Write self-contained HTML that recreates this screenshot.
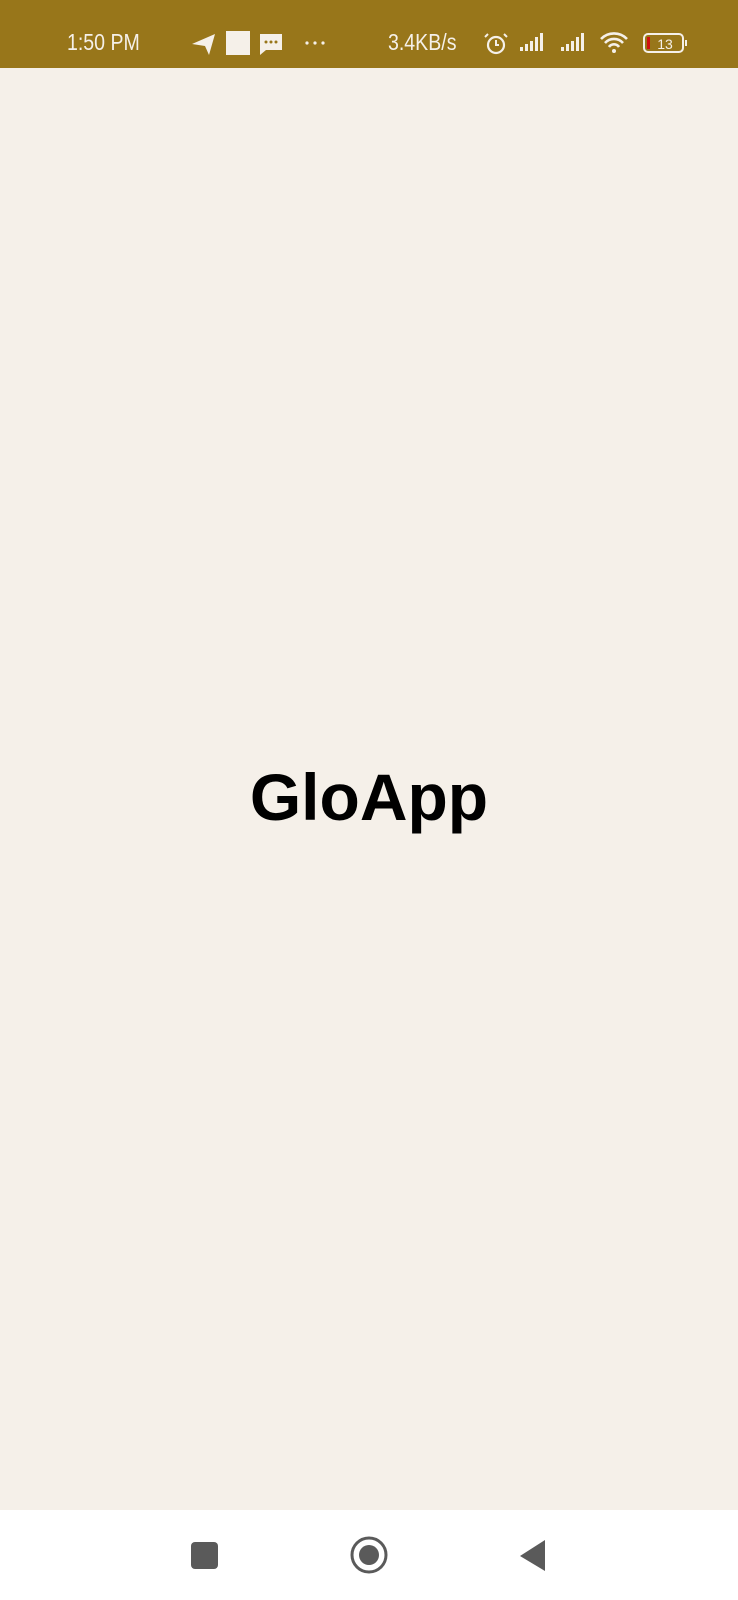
<!DOCTYPE html>
<html><head><meta charset="utf-8"><style>
html,body{margin:0;padding:0;width:738px;height:1600px;overflow:hidden;background:#f5f0e9;font-family:"Liberation Sans",sans-serif}
#sb{position:absolute;left:0;top:0;width:738px;height:68px;background:#98761a;color:#f5f0e9}
.t{position:absolute;font-size:23px;top:29px;line-height:26px;transform:scaleX(0.85);transform-origin:left center;white-space:nowrap}
#nav{position:absolute;left:0;top:1510px;width:738px;height:90px;background:#fff}
#title{position:absolute;left:0;width:738px;top:752px;text-align:center;font-weight:bold;font-size:66px;line-height:90px;color:#000}
</style></head><body>
<div id="sb">
<div class="t" style="left:67px">1:50 PM</div>
<svg style="position:absolute;left:0;top:0" width="738" height="68">
<polygon points="192,44 215,34 209,55 205,46" fill="#f5f0e9"/>
<rect x="226" y="31" width="24" height="24" fill="#f5f0e9"/>
<path d="M260 34h22v16h-16l-6 5z" fill="#f5f0e9"/>
<circle cx="266" cy="42" r="1.5" fill="#98761a"/><circle cx="271" cy="42" r="1.5" fill="#98761a"/><circle cx="276" cy="42" r="1.5" fill="#98761a"/>
<circle cx="307" cy="43" r="1.6" fill="#f5f0e9"/><circle cx="315" cy="43" r="1.6" fill="#f5f0e9"/><circle cx="323" cy="43" r="1.6" fill="#f5f0e9"/>
<circle cx="496" cy="45" r="8" fill="none" stroke="#f5f0e9" stroke-width="2.2"/>
<path d="M496 40v5h3M488 34l-3 3M504 34l3 3" stroke="#f5f0e9" stroke-width="2" fill="none"/>
<g fill="#f5f0e9"><rect x="520" y="47" width="3" height="4"/><rect x="525" y="44" width="3" height="7"/><rect x="530" y="41" width="3" height="10"/><rect x="535" y="37" width="3" height="14"/><rect x="540" y="33" width="3" height="18"/>
<rect x="561" y="47" width="3" height="4"/><rect x="566" y="44" width="3" height="7"/><rect x="571" y="41" width="3" height="10"/><rect x="576" y="37" width="3" height="14"/><rect x="581" y="33" width="3" height="18"/></g>
<path d="M601 39a18 18 0 0 1 26 0M605 43a12 12 0 0 1 18 0M609 47a6 6 0 0 1 10 0" stroke="#f5f0e9" stroke-width="2.6" fill="none"/>
<circle cx="614" cy="51" r="2" fill="#f5f0e9"/>
<rect x="644" y="34" width="39" height="18" rx="4" fill="none" stroke="#f5f0e9" stroke-width="2"/>
<rect x="685" y="40" width="2" height="6" fill="#f5f0e9"/>
<rect x="647" y="37" width="3" height="12" fill="#d01010"/>
<text x="665" y="49" font-size="14" fill="#f5f0e9" text-anchor="middle" font-family="Liberation Sans">13</text>
</svg>
<div class="t" style="left:388px">3.4KB/s</div>
</div>
<div id="title">GloApp</div>
<div id="nav">
<svg width="738" height="90" style="position:absolute;left:0;top:0">
<rect x="191" y="32" width="27" height="27" rx="4" fill="#5a5a5a"/>
<g><circle cx="369" cy="45" r="17" fill="none" stroke="#5a5a5a" stroke-width="3"/><circle cx="369" cy="45" r="10" fill="#5a5a5a"/></g>
<polygon points="545,30 545,61 520,46" fill="#5a5a5a"/>
</svg>
</div>
</body></html>
